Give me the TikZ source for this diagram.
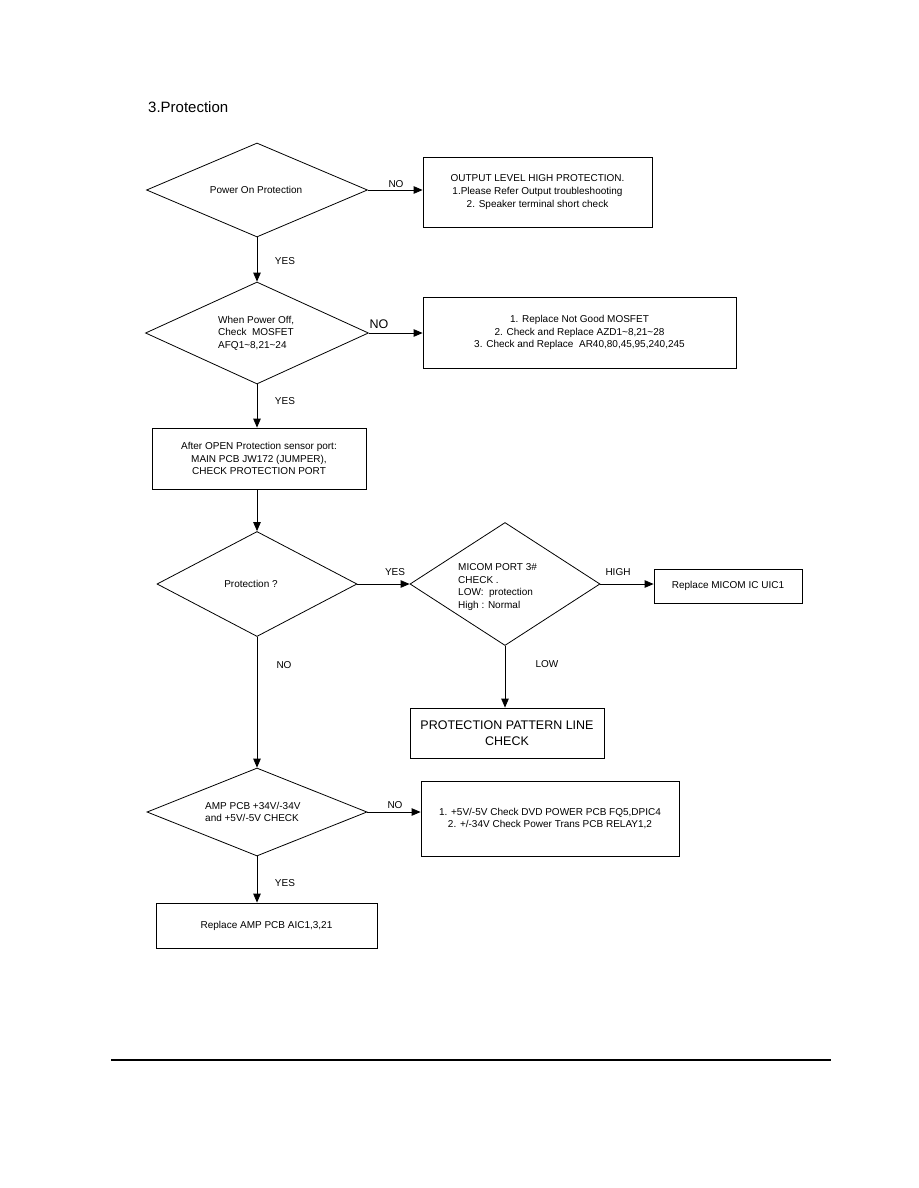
\documentclass[tikz,border=0pt]{standalone}
\usepackage{fontspec}
\setmainfont{Liberation Sans}
\usetikzlibrary{shapes.geometric,arrows.meta}
\begin{document}
\begin{tikzpicture}[x=1pt,y=-1pt,
  every node/.style={font=\fontsize{10}{12.6}\selectfont},
  dia/.style={draw, shape=diamond, inner sep=0pt, line width=0.8pt},
  box/.style={draw, rectangle, line width=0.8pt, align=center, inner sep=0pt},
  arr/.style={line width=0.8pt, -{Triangle[length=9pt,width=7.5pt]}},
  lbl/.style={inner sep=0pt}]
\useasboundingbox (0,0) rectangle (918,1188);

\node[anchor=base west, inner sep=0pt, font=\fontsize{15}{18}\selectfont] (title) at (148,113) {3.Protection};

% Diamond 1
\node[dia, minimum width=221pt, minimum height=94pt] (d1) at (257,190) {};
\node (t1) at (256,190) {Power On Protection};
\node[box, minimum width=229pt, minimum height=70pt] (b1) at (537.5,192) {OUTPUT LEVEL HIGH PROTECTION.\\1.Please Refer Output troubleshooting\\2. Speaker terminal short check};
\draw[arr] (d1.east) -- (d1.east -| b1.west);
\node[lbl] (l1) at (396,184) {NO};

% Diamond 2
\node[dia, minimum width=223pt, minimum height=102pt] (d2) at (257,333) {};
\node[align=left, anchor=west, inner sep=0pt] (t2) at (218,333) {When Power Off,\\Check\ \ MOSFET\\AFQ1\textasciitilde 8,21\textasciitilde 24};
\draw[arr] (d1.south) -- (d2.north);
\node[lbl] (l2) at (285,261) {YES};
\node[box, minimum width=313pt, minimum height=71pt] (b2) at (579.5,332.5) {1. Replace Not Good MOSFET\\2. Check and Replace AZD1\textasciitilde 8,21\textasciitilde 28\\3. Check and Replace\ \ AR40,80,45,95,240,245};
\draw[arr] (d2.east) -- (d2.east -| b2.west);
\node[lbl, font=\fontsize{12.5}{14}\selectfont] (l3) at (379,324) {NO};

% Box 3
\node[box, minimum width=214pt, minimum height=61pt] (b3) at (259,458.5) {After OPEN Protection sensor port:\\MAIN PCB JW172 (JUMPER),\\CHECK PROTECTION PORT};
\draw[arr] (d2.south) -- (d2.south |- b3.north);
\node[lbl] (l4) at (285,401) {YES};

% Diamond 3
\node[dia, minimum width=200pt, minimum height=105pt] (d3) at (257,584) {};
\node (t3) at (251,584) {Protection ?};
\draw[arr] (b3.south -| d3.north) -- (d3.north);

% Diamond 4
\node[dia, minimum width=190pt, minimum height=123pt] (d4) at (505,584) {};
\node[align=left, anchor=west, inner sep=0pt] (t4) at (458,587) {MICOM PORT 3\#\\CHECK .\\LOW:\ \ protection\\High : Normal};
\draw[arr] (d3.east) -- (d4.west);
\node[lbl] (l5) at (395,572) {YES};

\node[box, minimum width=148pt, minimum height=34pt] (b4) at (728,586) {Replace MICOM IC UIC1};
\draw[arr] (d4.east) -- (d4.east -| b4.west);
\node[lbl] (l6) at (618,572) {HIGH};

\node[box, minimum width=194pt, minimum height=50pt, font=\fontsize{12.5}{16}\selectfont] (b5) at (507,733) {PROTECTION PATTERN LINE\\CHECK};
\draw[arr] (d4.south) -- (d4.south |- b5.north);
\node[lbl] (l7) at (547,664) {LOW};

% Diamond 5
\node[dia, minimum width=220pt, minimum height=88pt] (d5) at (257,812) {};
\node[align=left, anchor=west, inner sep=0pt] (t5) at (205,812) {AMP PCB +34V/-34V\\and +5V/-5V CHECK};
\draw[arr] (d3.south) -- (d5.north);
\node[lbl] (l8) at (284,665) {NO};

\node[box, minimum width=258pt, minimum height=75pt] (b6) at (550,818.5) {1. +5V/-5V Check DVD POWER PCB FQ5,DPIC4\\2. +/-34V Check Power Trans PCB RELAY1,2};
\draw[arr] (d5.east) -- (d5.east -| b6.west);
\node[lbl] (l9) at (395,805) {NO};

\node[box, minimum width=221pt, minimum height=45pt] (b7) at (266.5,925.5) {Replace AMP PCB AIC1,3,21};
\draw[arr] (d5.south) -- (d5.south |- b7.north);
\node[lbl] (l10) at (285,883) {YES};

% bottom rule
\coordinate (r1) at (111,1060);
\coordinate (r2) at (831,1060);
\draw[line width=2pt] (r1) -- (r2);
\end{tikzpicture}
\end{document}
